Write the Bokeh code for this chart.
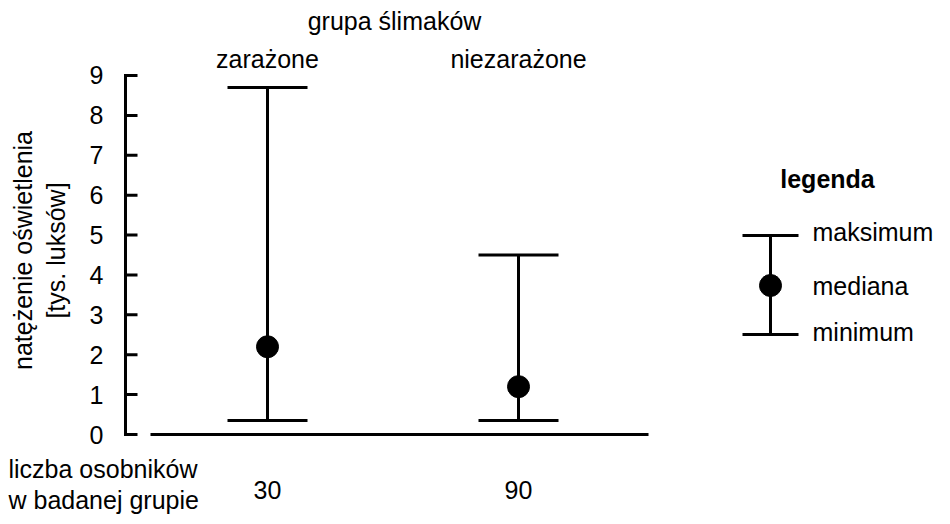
import math
from bokeh.plotting import figure
from bokeh.models import Range1d
from bokeh.core.properties import value
from bokeh.embed import file_html
from bokeh.resources import INLINE

groups = ["zarażone", "niezarażone"]
counts = ["30", "90"]
maxima = [8.7, 4.5]
medians = [2.2, 1.2]
minima = [0.35, 0.35]
y_ticks = list(range(0, 10))

FONT = "Liberation Sans"
FS = "25px"
W, H = 934, 516
SX, SY = 251.0, 39.89           # px per unit
X0, Y0 = 267 - SX, 434          # pixel of x=0, y=0
def X(px): return (px - X0) / SX
def Y(py): return (Y0 - py) / SY

p = figure(width=W, height=H, output_backend="svg", toolbar_location=None,
           x_range=Range1d(X(0), X(W)), y_range=Range1d(Y(H), Y(0)),
           min_border=0, x_axis_location=None, y_axis_location=None)
p.outline_line_color = None
p.grid.visible = False
p.background_fill_color = "white"

blk = dict(line_width=3, color="black")
tk = dict(text_font=value(FONT), text_font_size=FS, text_color="black")

# y axis
ax_x = X(125)
p.segment(x0=[ax_x], y0=[0], x1=[ax_x], y1=[9], line_cap="square", **blk)
p.segment(x0=[ax_x] * len(y_ticks), y0=y_ticks, x1=[X(137)] * len(y_ticks), y1=y_ticks, **blk)
p.text([X(103)] * len(y_ticks), y_ticks, text=[str(t) for t in y_ticks],
       text_align="right", text_baseline="middle", **tk)
p.text([X(22), X(55)], [Y(250), Y(250)], text=["natężenie oświetlenia", "[tys. luksów]"],
       angle=math.pi / 2, text_align="center", text_baseline="middle", **tk)

# x baseline
p.segment(x0=[X(150)], y0=[0], x1=[X(648)], y1=[0], **blk)

xs = [1, 2]
hw = 40 / SX
p.segment(x0=xs, y0=minima, x1=xs, y1=maxima, **blk)
p.segment(x0=[x - hw for x in xs], y0=maxima, x1=[x + hw for x in xs], y1=maxima, **blk)
p.segment(x0=[x - hw for x in xs], y0=minima, x1=[x + hw for x in xs], y1=minima, **blk)
p.scatter(xs, medians, size=22, color="black")

p.text([X(394)], [Y(20)], text=["grupa ślimaków"], text_align="center", text_baseline="middle", **tk)
p.text(xs, [Y(58)] * 2, text=groups, text_align="center", text_baseline="middle", **tk)
p.text(xs, [Y(489)] * 2, text=counts, text_align="center", text_baseline="middle", **tk)
p.text([X(8)] * 2, [Y(468), Y(499)], text=["liczba osobników", "w badanej grupie"],
       text_align="left", text_baseline="middle", **tk)

# legend
lx, lw = X(770), 28 / SX
p.segment(x0=[lx], y0=[Y(334)], x1=[lx], y1=[Y(235)], **blk)
p.segment(x0=[lx - lw] * 2, y0=[Y(235), Y(334)], x1=[lx + lw] * 2, y1=[Y(235), Y(334)], **blk)
p.scatter([lx], [Y(285)], size=22, color="black")
p.text([X(812)] * 3, [Y(231), Y(285), Y(331)], text=["maksimum", "mediana", "minimum"],
       text_align="left", text_baseline="middle", **tk)
p.text([X(827)], [Y(178)], text=["legenda"], text_align="center", text_baseline="middle",
       text_font_style="bold", text_font=value(FONT), text_font_size=FS)

open("out.html", "w").write(file_html(p, INLINE))
